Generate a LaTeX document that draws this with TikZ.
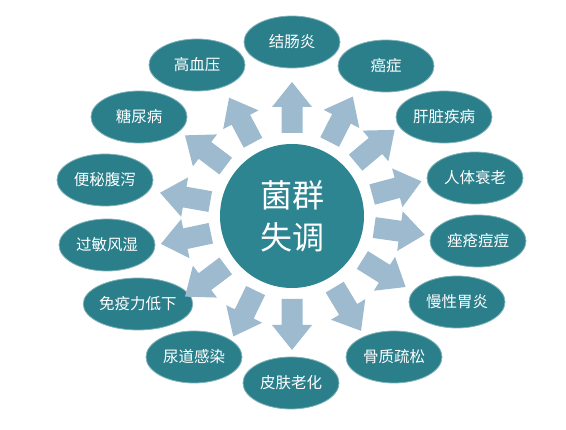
\documentclass[tikz,border=0pt]{standalone}
\usepackage{fontspec}
\newfontfamily\cjk{Noto Sans CJK SC}
\definecolor{teal1}{RGB}{42,127,139}
\definecolor{teal2}{RGB}{44,133,145}
\definecolor{arrowc}{RGB}{157,186,206}
\tikzset{
  ell/.style={ellipse, fill=teal1, draw=teal1!60!white, line width=0.8pt, minimum width=96pt, minimum height=52pt, inner sep=0pt, text=white, font=\cjk\fontsize{15.5}{18}\selectfont},
  hub/.style={circle, fill=teal2, minimum size=144pt, inner sep=0pt, text=white, align=center, font=\cjk\fontsize{32}{42}\selectfont},
  blockarrow/.style={fill=arrowc}
}
\usetikzlibrary{shapes.geometric}
\begin{document}
\begin{tikzpicture}[x=1pt,y=-1pt]
\useasboundingbox (0,0) rectangle (566,430);
\node[hub] (c) at (292,216) {菌群\\失调};
\node[ell] (e1) at (292,42) {结肠炎};
\node[ell] (e2) at (386,66) {癌症};
\node[ell] (e3) at (444,117) {肝脏疾病};
\node[ell] (e4) at (475,178) {人体衰老};
\node[ell] (e5) at (478,241) {痤疮痘痘};
\node[ell] (e6) at (457,302) {慢性胃炎};
\node[ell] (e7) at (394,357) {骨质疏松};
\node[ell] (e8) at (291,383) {皮肤老化};
\node[ell] (e9) at (194,357) {尿道感染};
\node[ell] (e10) at (138,304) {免疫力低下};
\node[ell] (e11) at (107,245) {过敏风湿};
\node[ell] (e12) at (105,180) {便秘腹泻};
\node[ell] (e13) at (139,117) {糖尿病};
\node[ell] (e14) at (197,65) {高血压};
\foreach \a in {90,63,40,15,-8,-32,-59,-90,-116,-143,-168,170,143,118}{
  \begin{scope}[shift={(c.center)}, rotate=\a]
    \fill[blockarrow] (83,-10.5) -- (109,-10.5) -- (109,-20) -- (134,0) -- (109,20) -- (109,10.5) -- (83,10.5) -- cycle;
  \end{scope}
}
\end{tikzpicture}
\end{document}
